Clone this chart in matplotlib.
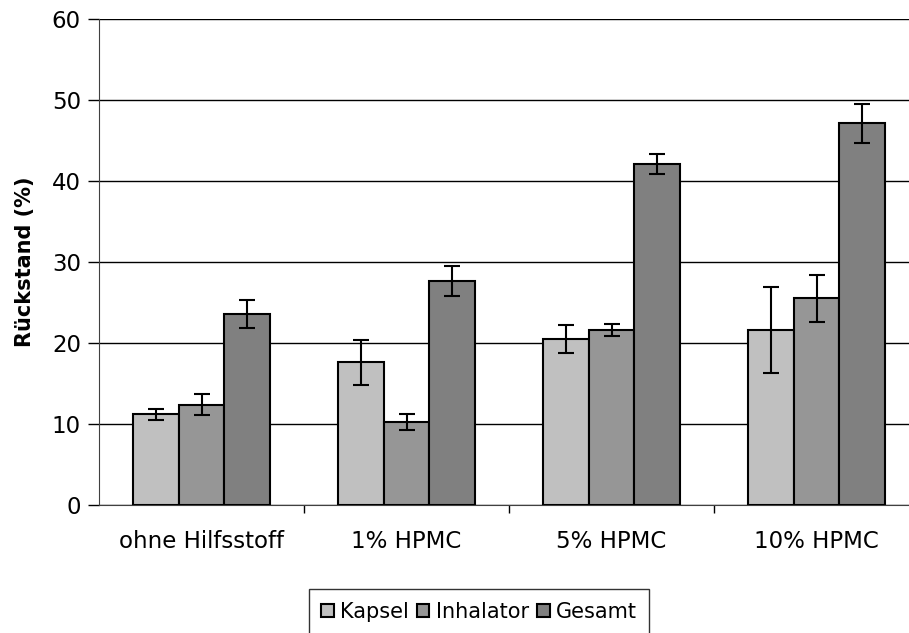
import numpy as np
import matplotlib.pyplot as plt
from matplotlib.ticker import FixedLocator

# Daten
kategorien = ["ohne Hilfsstoff", "1% HPMC", "5% HPMC", "10% HPMC"]
kapsel = [11.2, 17.6, 20.5, 21.6]
kapsel_err = [0.65, 2.75, 1.75, 5.3]
inhalator = [12.4, 10.2, 21.6, 25.5]
inhalator_err = [1.25, 1.0, 0.75, 2.95]
gesamt = [23.6, 27.7, 42.1, 47.1]
gesamt_err = [1.75, 1.85, 1.2, 2.4]

serien = [("Kapsel", kapsel, kapsel_err, "#C0C0C0"),
          ("Inhalator", inhalator, inhalator_err, "#969696"),
          ("Gesamt", gesamt, gesamt_err, "#808080")]

plt.rcParams['font.family'] = ['DejaVu Sans']

fig = plt.figure(figsize=(9.09, 6.33), dpi=100)
ax = fig.add_axes([99 / 909, 128 / 633, 820 / 909, 486 / 633])

x = np.arange(len(kategorien))
w = 1 / 4.5
for i, (name, vals, errs, col) in enumerate(serien):
    ax.bar(x + (i - 1) * w, vals, w, color=col, edgecolor="black", linewidth=1.5,
           label=name, zorder=3,
           yerr=errs, error_kw=dict(ecolor="black", elinewidth=1.5, capsize=5.5, capthick=1.5, zorder=4))

ax.set_xlim(-0.5, 3.5)
ax.set_ylim(0, 60)
ax.set_yticks(range(0, 61, 10))
ax.yaxis.grid(True, color="black", linewidth=1)
ax.set_axisbelow(True)

ax.set_xticks(x)
ax.set_xticklabels(kategorien)
ax.tick_params(axis="x", length=0, labelsize=16.5, pad=18)
ax.xaxis.set_minor_locator(FixedLocator([0.5, 1.5, 2.5, 3.5]))
ax.tick_params(axis="x", which="minor", length=6, width=1, direction="out")
ax.tick_params(axis="y", length=8, width=1, direction="out", labelsize=16.5, pad=5)

for s in ["top", "right"]:
    ax.spines[s].set_visible(False)
ax.spines["left"].set_color("#404040")
ax.spines["bottom"].set_color("#404040")

ax.set_ylabel("Rückstand (%)", fontsize=15, fontweight="bold", labelpad=12)

leg = fig.legend(loc="upper center", bbox_to_anchor=(479 / 909, 1 - 589 / 633),
                 ncol=3, fontsize=15, frameon=True, fancybox=False, edgecolor="black",
                 handlelength=0.6, handleheight=0.6, handletextpad=0.3, columnspacing=0.4,
                 borderpad=0.6, borderaxespad=0)
leg.get_frame().set_linewidth(1)

fig.savefig("out.png", dpi=100)
